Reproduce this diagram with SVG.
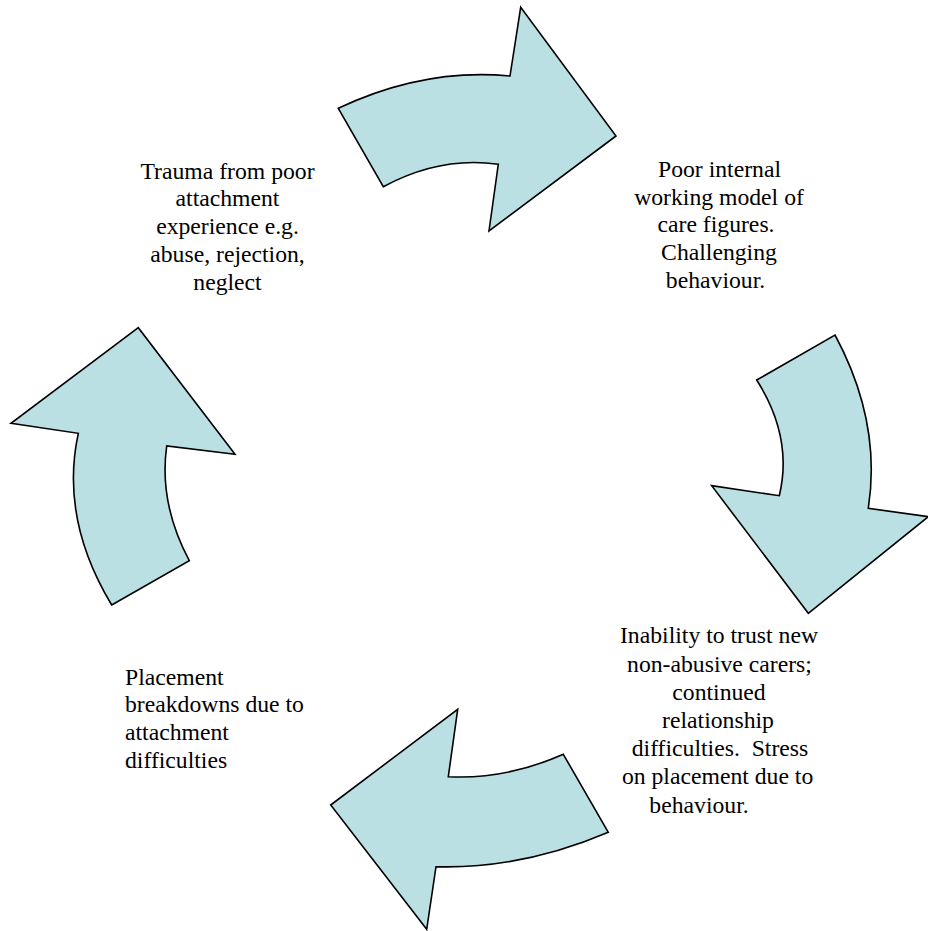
<svg xmlns="http://www.w3.org/2000/svg" width="928" height="931" viewBox="0 0 928 931">
<style>
.arrow{fill:#BBE0E3;stroke:#000;stroke-width:1.6;stroke-linejoin:miter}
text{font-family:'Liberation Serif','Times New Roman','DejaVu Serif',serif;font-size:23.7px;fill:#000}
.c{text-anchor:middle}
</style>
<rect width="928" height="931" fill="#fff"/>
<g id="connectors">
<path id="arrow-top" class="arrow" d="M338.3,108.3 Q423.8,67.8 510,76 L520.7,7.3 L616,136 L489,231 L498.3,164.3 Q440.5,155.8 383.3,186.7 Z"/>
<path id="arrow-right" class="arrow" d="M756.7,380 L835,335 Q881.7,421.7 868.3,508.3 L928.3,516.7 L808.3,613.3 L711.7,485.7 L779.3,495.7 Q793.3,437.5 756.7,380 Z"/>
<path id="arrow-bottom" class="arrow" d="M563.3,754.3 L608.3,832.3 Q521.8,869.2 436,866.7 L426.7,929.3 L330.7,805 L457.7,709.3 L448.3,776.7 Q505.5,779.8 563.3,754.3 Z"/>
<path id="arrow-left" class="arrow" d="M111.7,605 L189.3,560.7 Q158.7,503.3 166.7,446 L235,454.3 L138.3,327.7 L11,423.3 L78.3,433.3 Q59.7,518.8 111.7,605 Z"/>
</g>
<g font-family="Liberation Serif, serif" font-size="23.7">
<g id="node-trauma">
<text class="c" x="227.5" y="178.5">Trauma from poor</text>
<text class="c" x="227.5" y="206.3">attachment</text>
<text class="c" x="227.5" y="234.1">experience e.g.</text>
<text class="c" x="227.5" y="261.9">abuse, rejection,</text>
<text class="c" x="227.5" y="289.7">neglect</text>
</g>
<g id="node-poor-model">
<text class="c" x="719.5" y="176.7">Poor internal</text>
<text class="c" x="719" y="204.5">working model of</text>
<text class="c" x="716" y="232.3">care figures.</text>
<text class="c" x="719" y="260.1">Challenging</text>
<text class="c" x="715.5" y="287.9">behaviour.</text>
</g>
<g id="node-inability">
<text class="c" x="719" y="643.3">Inability to trust new</text>
<text class="c" x="719.5" y="671.5">non-abusive carers;</text>
<text class="c" x="719" y="699.7">continued</text>
<text class="c" x="718" y="727.9">relationship</text>
<text class="c" x="720" y="756.1" xml:space="preserve">difficulties.  Stress</text>
<text class="c" x="717.6" y="784.3">on placement due to</text>
<text class="c" x="699" y="812.5">behaviour.</text>
</g>
<g id="node-placement">
<text x="125" y="684.5">Placement</text>
<text x="125" y="712.3">breakdowns due to</text>
<text x="125" y="740.1">attachment</text>
<text x="125" y="767.9">difficulties</text>
</g>
</g>
</svg>
